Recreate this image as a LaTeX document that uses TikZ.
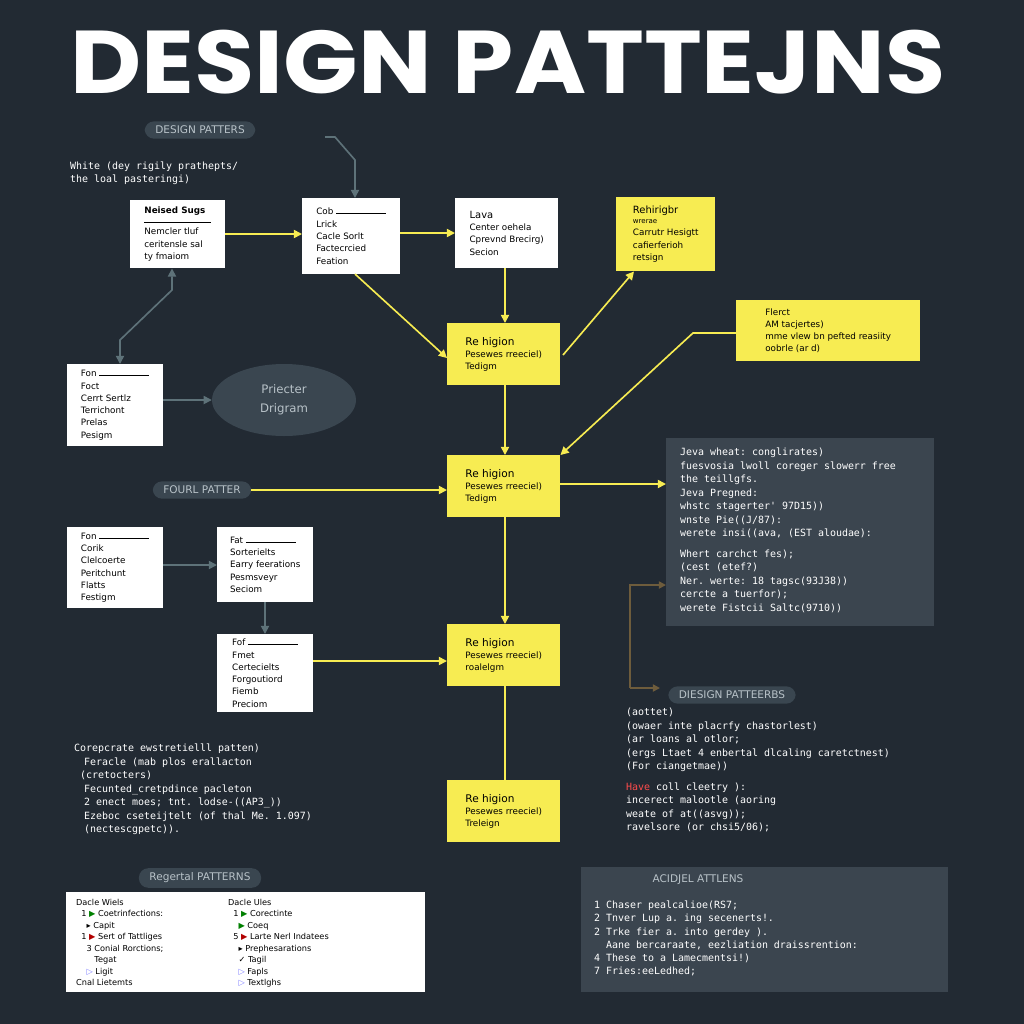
\documentclass[tikz,border=0pt]{standalone}
\usepackage{fontspec}
\setmainfont{DejaVu Sans}
\setmonofont{DejaVu Sans Mono}
\newfontfamily\titlefont{Poppins}
\usetikzlibrary{shapes.geometric,arrows.meta}
\definecolor{bgc}{HTML}{222A33}
\definecolor{pillc}{HTML}{3A4650}
\definecolor{codec}{HTML}{3B454F}
\definecolor{yel}{HTML}{F7EC52}
\definecolor{grayarr}{HTML}{5E7279}
\definecolor{brownarr}{HTML}{6E5C3C}
\definecolor{pilltext}{HTML}{B8C2C8}
\tikzset{
  card/.style={draw=none,fill=white,anchor=north west,align=left,inner sep=4pt,
    font=\fontsize{7.5}{10.5}\selectfont,text=black},
  note/.style={card,fill=yel},
  pill/.style={rounded corners=8pt,fill=pillc,text=pilltext,inner xsep=9pt,inner ysep=4pt,
    font=\fontsize{9}{10}\selectfont},
  codetext/.style={anchor=north west,align=left,text=white,font=\ttfamily\fontsize{8.5}{11.5}\selectfont},
  yarrow/.style={draw=yel,line width=1.4pt,-{Triangle[length=7pt,width=7pt]}},
  garrow/.style={draw=grayarr,line width=1.4pt,-{Triangle[length=7pt,width=7pt]}},
  barrow/.style={draw=brownarr,line width=1.4pt,-{Triangle[length=6pt,width=6pt]}}
}
\newcommand{\uline}[1]{#1 \rule[1pt]{1.5cm}{0.3pt}}
\begin{document}
\begin{tikzpicture}[x=0.03cm,y=-0.03cm]
  \fill[bgc] (0,0) rectangle (1024,1024);
  \useasboundingbox (0,0) rectangle (1024,1024);
  % title
  \node[text=white,xscale=1.1,font=\titlefont\bfseries\fontsize{76}{80}\selectfont] (title) at (508,62) {DESIGN PATTEJNS};
  % top left
  \node[pill] (pillA) at (200,130) {DESIGN PATTERS};
  \node[codetext,font=\ttfamily\fontsize{8.5}{10.5}\selectfont] (intro) at (66,158) {White (dey rigily prathepts/\\the loal pasteringi)};
  \node[card,minimum width=95*0.03cm,minimum height=68*0.03cm] (nsugs) at (130,200) {\textbf{Neised Sugs}\\[-3pt]\rule{2cm}{0.3pt}\\Nemcler tluf\\ceritensle sal\\ty fmaiom};
  \node[card,minimum width=98*0.03cm,minimum height=76*0.03cm] (cob) at (302,198) {\uline{Cob}\\Lrick\\Cacle Sorlt\\Factecrcied\\Feation};
  \node[card,minimum width=103*0.03cm,minimum height=70*0.03cm] (lava) at (455,198) {\fontsize{8.5}{10}\selectfont Lava\\Center oehela\\Cprevnd Brecirg)\\Secion};
  \node[note,minimum width=99*0.03cm,minimum height=74*0.03cm] (rehir) at (616,197) {\fontsize{8.5}{10}\selectfont Rehirigbr\\[-2pt]\fontsize{6}{8}\selectfont wrerae\\\fontsize{7.5}{10}\selectfont Carrutr Hesigtt\\cafierferioh\\retsign};
  \node[note,minimum width=184*0.03cm,minimum height=61*0.03cm] (flerct) at (736,300) {Flerct\\AM tacjertes)\\mme vlew bn pefted reasiity\\oobrle (ar d)};
  % yellow column
  \foreach \n/\yy/\sub in {reA/323/Tedigm,reB/455/Tedigm,reC/624/roalelgm,reD/780/Treleign}
    \node[note,minimum width=113*0.03cm,minimum height=62*0.03cm] (\n) at (447,\yy) {\fontsize{9}{11}\selectfont Re higion\\Pesewes rreeciel)\\\sub};
  % left side
  \node[card,minimum width=96*0.03cm,minimum height=82*0.03cm] (fon) at (67,364) {\uline{Fon}\\Foct\\Cerrt Sertlz\\Terrichont\\Prelas\\Pesigm};
  \node[ellipse,fill=pillc,minimum width=144*0.03cm,minimum height=72*0.03cm,text=pilltext,align=center,font=\fontsize{10}{16}\selectfont] (pdiag) at (284,400) {Priecter\\Drigram};
  \node[pill] (pillB) at (202,490) {FOURL PATTER};
  \node[card,minimum width=96*0.03cm,minimum height=81*0.03cm] (fonB) at (67,527) {\uline{Fon}\\Corik\\Clelcoerte\\Peritchunt\\Flatts\\Festigm};
  \node[card,minimum width=96*0.03cm,minimum height=75*0.03cm] (fat) at (217,527) {\uline{Fat}\\Sorterielts\\Earry feerations\\Pesmsveyr\\Seciom};
  \node[card,minimum width=96*0.03cm,minimum height=78*0.03cm] (fof) at (217,634) {\uline{Fof}\\Fmet\\Certecielts\\Forgoutiord\\Fiemb\\Preciom};
  % code box
  \fill[codec] (666,438) rectangle (934,626);
  \node[codetext] (javacode) at (676,444) {Jeva wheat: conglirates)\\fuesvosia lwoll coreger slowerr free\\the teillgfs.\\Jeva Pregned:\\whstc stagerter' 97D15))\\wnste Pie((J/87):\\werete insi((ava, (EST aloudae):\\[6pt]Whert carchct fes);\\(cest (etef?)\\Ner. werte: 18 tagsc(93J38))\\cercte a tuerfor);\\werete Fistcii Saltc(9710))};
  \coordinate (jin) at (666,484);
  \coordinate (jlow) at (666,585);
  % lower texts
  \node[codetext] (corp) at (70,740) {Corepcrate ewstretielll patten)\\\quad Feracle (mab plos erallacton\\\ (cretocters)\\\quad Fecunted\_cretpdince pacleton\\\quad 2 enect moes; tnt. lodse-((AP3\_))\\\quad Ezeboc cseteijtelt (of thal Me. 1.097)\\\quad (nectescgpetc)).};
  \node[pill] (pillC) at (732,695) {DIESIGN PATTEERBS};
  \coordinate (pillCw) at (660,688);
  \node[codetext] (paren) at (622,704) {(aottet)\\(owaer inte placrfy chastorlest)\\(ar loans al otlor;\\(ergs Ltaet 4 enbertal dlcaling caretctnest)\\(For ciangetmae))\\[6pt]\textcolor{red!70!white}{Have} coll cleetry ):\\incerect malootle (aoring\\weate of at((asvg));\\ravelsore (or chsi5/06);};
  % bottom boxes
  \node[pill] (pillD) at (200,878) {Regertal PATTERNS};
  \fill[white] (66,892) rectangle (425,992);
  \node[codetext,text=black,font=\fontsize{7}{9.8}\selectfont] (colA) at (72,895) {Dacle Wiels\\\ \ 1 \textcolor{green!50!black}{▶} Coetrinfections:\\\ \ \ \ \textcolor{black}{▸} Capit\\\ \ 1 \textcolor{red!70!black}{▶} Sert of Tattliges\\\ \ \ \ 3 Conial Rorctions;\\\ \ \ \ \ \ \ Tegat\\\ \ \ \ \textcolor{blue!50}{▷} Ligit\\Cnal Lietemts};
  \node[codetext,text=black,font=\fontsize{7}{9.8}\selectfont] (colB) at (224,895) {Dacle Ules\\\ \ 1 \textcolor{green!50!black}{▶} Corectinte\\\ \ \ \ \textcolor{green!50!black}{▶} Coeq\\\ \ 5 \textcolor{red!70!black}{▶} Larte Nerl Indatees\\\ \ \ \ ▸ Prephesarations\\\ \ \ \ ✓ Tagil\\\ \ \ \ \textcolor{blue!50}{▷} Fapls\\\ \ \ \ \textcolor{blue!50}{▷} Textlghs};
  \fill[codec] (581,867) rectangle (948,992);
  \node[text=pilltext,font=\fontsize{9}{10}\selectfont] (acid) at (698,880) {ACIDJEL ATTLENS};
  \node[codetext,font=\ttfamily\fontsize{8.5}{11.2}\selectfont] (acidlist) at (590,897) {1 Chaser pealcalioe(RS7;\\2 Tnver Lup a. ing secenerts!.\\2 Trke fier a. into gerdey ).\\\ \ Aane bercaraate, eezliation draissrention:\\4 These to a Lamecmentsi!)\\7 Fries:eeLedhed;};
  % gray connectors
  \coordinate (gstart) at (325,137);
  \draw[garrow] (gstart) -- (335,137) -- (355,160) -- (cob.north -| 355,0);
  \draw[draw=grayarr,line width=1.4pt,{Triangle[length=7pt,width=7pt]}-{Triangle[length=7pt,width=7pt]}] (fon.north -| 120,0) -- (120,340) -- (172,290) -- (nsugs.south -| 172,0);
  \draw[garrow] (fon.east |- pdiag) -- (pdiag.west);
  \draw[garrow] (fonB.east |- 0,565) -- (fat.west |- 0,565);
  \draw[garrow] (fat.south -| 265,0) -- (fof.north -| 265,0);
  % yellow connectors
  \draw[yarrow] (nsugs.east |- 0,234) -- (cob.west |- 0,234);
  \draw[yarrow] (cob.east |- 0,233) -- (lava.west |- 0,233);
  \draw[yarrow] (355,274) -- (reA.west |- 0,358);
  \draw[yarrow] (lava.south -| 505,0) -- (reA.north -| 505,0);
  \draw[yarrow] (563,355) -- (rehir.south -| 634,0);
  \draw[yarrow] (reA.south -| 505,0) -- (reB.north -| 505,0);
  \draw[yarrow] (flerct.west |- 0,333) -- (693,333) -- (reB.north east);
  \draw[yarrow] (pillB.east |- 0,490) -- (reB.west |- 0,490);
  \draw[yarrow] (reB.east |- 0,484) -- (jin);
  \draw[yarrow] (reB.south -| 505,0) -- (reC.north -| 505,0);
  \draw[yarrow] (fof.east |- 0,661) -- (reC.west |- 0,661);
  \draw[draw=yel,line width=1.4pt] (reC.south -| 505,0) -- (reD.north -| 505,0);
  % brown connectors
  \draw[barrow] (630,688) -- (630,585) -- (jlow);
  \draw[barrow] (630,688) -- (pillCw);
\end{tikzpicture}
\end{document}
